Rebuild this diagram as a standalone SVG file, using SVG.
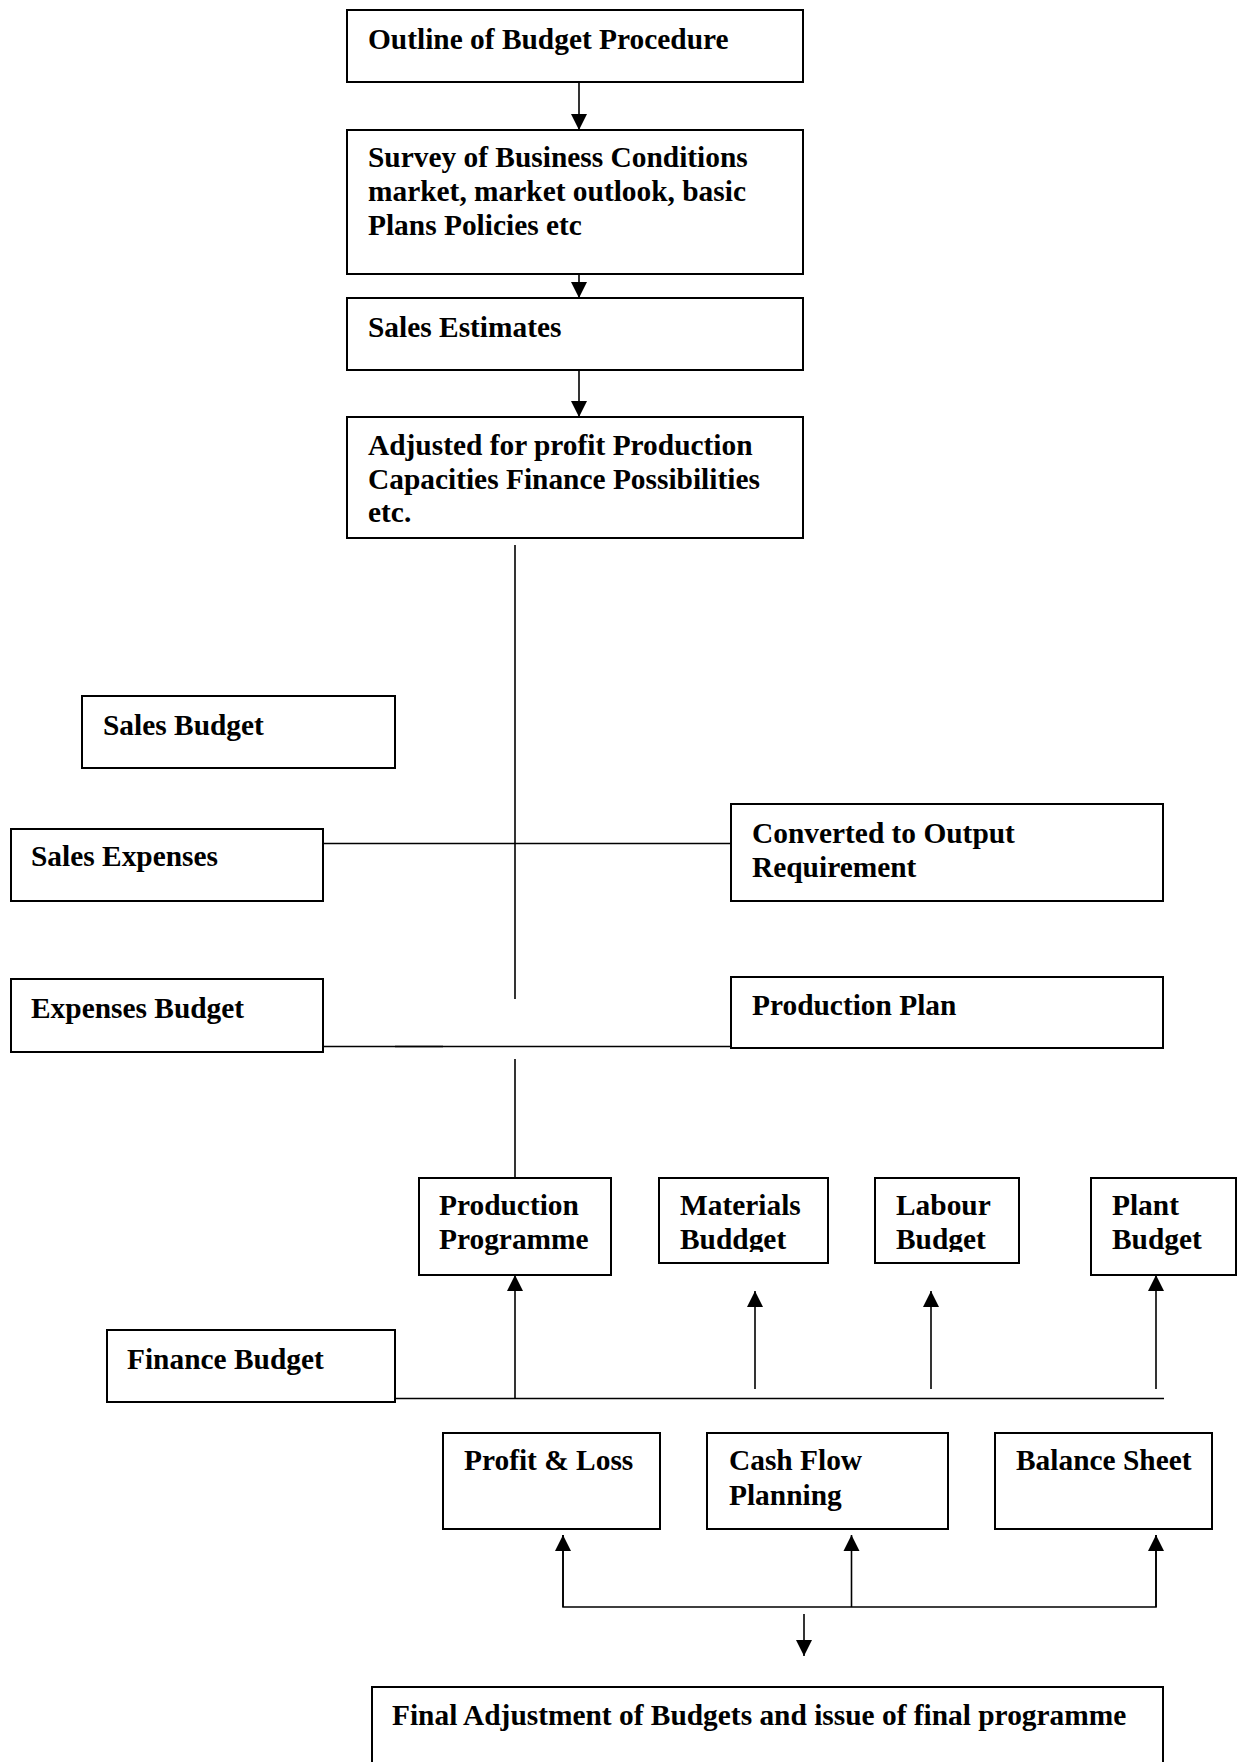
<svg xmlns="http://www.w3.org/2000/svg" width="1243" height="1762" viewBox="0 0 1243 1762">
<style>
  .box { fill: #fff; stroke: #000; stroke-width: 2; }
  .lbl { font-family: "Liberation Serif", "Times New Roman", serif; font-weight: bold; font-size: 29.4px; fill: #000; }
  .ln { fill: none; stroke: #000; stroke-width: 1.6; }
</style>
<defs>
  <marker id="arr" markerUnits="userSpaceOnUse" markerWidth="17" markerHeight="17" viewBox="0 0 17 17" refX="16" refY="8.5" orient="auto">
    <path d="M0,0.5 L16,8.5 L0,16.5 z" fill="#000"/>
  </marker>
  <clipPath id="clipMat"><rect x="650" y="1170" width="190" height="82"/></clipPath>
  <clipPath id="clipLab"><rect x="870" y="1170" width="160" height="82"/></clipPath>
</defs>

<g id="connectors">
  <line class="ln" x1="579" y1="82" x2="579" y2="130" marker-end="url(#arr)"/>
  <line class="ln" x1="579" y1="274" x2="579" y2="298" marker-end="url(#arr)"/>
  <line class="ln" x1="579" y1="370" x2="579" y2="417" marker-end="url(#arr)"/>
  <line class="ln" x1="515" y1="545" x2="515" y2="999"/>
  <line class="ln" x1="323" y1="843.5" x2="731" y2="843.5"/>
  <line class="ln" x1="323" y1="1046.5" x2="731" y2="1046.5"/>
  <line class="ln" x1="395" y1="1046.5" x2="443" y2="1046.5" stroke-width="2.4"/>
  <line class="ln" x1="515" y1="1059" x2="515" y2="1186"/>
  <line class="ln" x1="395" y1="1398.5" x2="1164" y2="1398.5"/>
  <line class="ln" x1="515" y1="1398.5" x2="515" y2="1275" marker-end="url(#arr)"/>
  <line class="ln" x1="755" y1="1389" x2="755" y2="1291" marker-end="url(#arr)"/>
  <line class="ln" x1="931" y1="1389" x2="931" y2="1291" marker-end="url(#arr)"/>
  <line class="ln" x1="1156" y1="1389" x2="1156" y2="1275" marker-end="url(#arr)"/>
  <polyline class="ln" points="563,1535 563,1607 1156,1607 1156,1535"/>
  <line class="ln" x1="563" y1="1607" x2="563" y2="1535" marker-end="url(#arr)"/>
  <line class="ln" x1="851.5" y1="1607" x2="851.5" y2="1535" marker-end="url(#arr)"/>
  <line class="ln" x1="1156" y1="1607" x2="1156" y2="1535" marker-end="url(#arr)"/>
  <line class="ln" x1="804" y1="1614" x2="804" y2="1656" marker-end="url(#arr)"/>
</g>

<g id="outline">
  <rect class="box" x="347" y="10" width="456" height="72"/>
  <text class="lbl" x="368" y="49">Outline of Budget Procedure</text>
</g>
<g id="survey">
  <rect class="box" x="347" y="130" width="456" height="144"/>
  <text class="lbl" x="368" y="167">Survey of Business Conditions</text>
  <text class="lbl" x="368" y="201">market, market outlook, basic</text>
  <text class="lbl" x="368" y="235">Plans Policies etc</text>
</g>
<g id="sales-estimates">
  <rect class="box" x="347" y="298" width="456" height="72"/>
  <text class="lbl" x="368" y="337">Sales Estimates</text>
</g>
<g id="adjusted">
  <rect class="box" x="347" y="417" width="456" height="121"/>
  <text class="lbl" x="368" y="455">Adjusted for profit Production</text>
  <text class="lbl" x="368" y="489">Capacities Finance Possibilities</text>
  <text class="lbl" x="368" y="522">etc.</text>
</g>
<g id="sales-budget">
  <rect class="box" x="82" y="696" width="313" height="72"/>
  <text class="lbl" x="103" y="735">Sales Budget</text>
</g>
<g id="sales-expenses">
  <rect class="box" x="11" y="829" width="312" height="72"/>
  <text class="lbl" x="31" y="866">Sales Expenses</text>
</g>
<g id="converted">
  <rect class="box" x="731" y="804" width="432" height="97"/>
  <text class="lbl" x="752" y="843">Converted to Output</text>
  <text class="lbl" x="752" y="877">Requirement</text>
</g>
<g id="expenses-budget">
  <rect class="box" x="11" y="979" width="312" height="73"/>
  <text class="lbl" x="31" y="1018">Expenses Budget</text>
</g>
<g id="production-plan">
  <rect class="box" x="731" y="977" width="432" height="71"/>
  <text class="lbl" x="752" y="1015">Production Plan</text>
</g>
<g id="production-programme">
  <rect class="box" x="419" y="1178" width="192" height="97"/>
  <text class="lbl" x="439" y="1215">Production</text>
  <text class="lbl" x="439" y="1249">Programme</text>
</g>
<g id="materials-budget">
  <rect class="box" x="659" y="1178" width="169" height="85"/>
  <g clip-path="url(#clipMat)">
    <text class="lbl" x="680" y="1215">Materials</text>
    <text class="lbl" x="680" y="1249">Buddget</text>
  </g>
</g>
<g id="labour-budget">
  <rect class="box" x="875" y="1178" width="144" height="85"/>
  <g clip-path="url(#clipLab)">
    <text class="lbl" x="896" y="1215">Labour</text>
    <text class="lbl" x="896" y="1249">Budget</text>
  </g>
</g>
<g id="plant-budget">
  <rect class="box" x="1091" y="1178" width="145" height="97"/>
  <text class="lbl" x="1112" y="1215">Plant</text>
  <text class="lbl" x="1112" y="1249">Budget</text>
</g>
<g id="finance-budget">
  <rect class="box" x="107" y="1330" width="288" height="72"/>
  <text class="lbl" x="127" y="1369">Finance Budget</text>
</g>
<g id="profit-loss">
  <rect class="box" x="443" y="1433" width="217" height="96"/>
  <text class="lbl" x="464" y="1470">Profit &amp; Loss</text>
</g>
<g id="cash-flow">
  <rect class="box" x="707" y="1433" width="241" height="96"/>
  <text class="lbl" x="729" y="1470">Cash Flow</text>
  <text class="lbl" x="729" y="1505">Planning</text>
</g>
<g id="balance-sheet">
  <rect class="box" x="995" y="1433" width="217" height="96"/>
  <text class="lbl" x="1016" y="1470">Balance Sheet</text>
</g>
<g id="final">
  <rect class="box" x="372" y="1687" width="791" height="90"/>
  <text class="lbl" x="392" y="1725">Final Adjustment of Budgets and issue of final programme</text>
</g>
</svg>
